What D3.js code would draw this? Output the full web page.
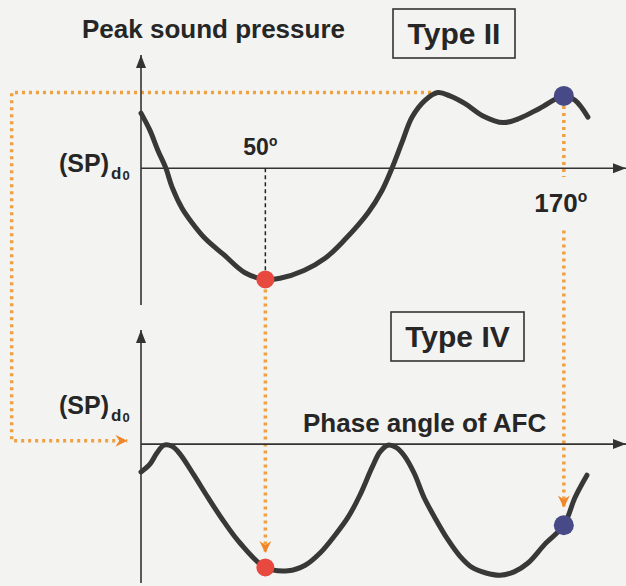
<!DOCTYPE html>
<html>
<head>
<meta charset="utf-8">
<script src="https://cdn.jsdelivr.net/npm/d3@7"></script>
<style>
body{margin:0;background:#f3f3f1;}
text{font-family:"Liberation Sans",Arial,Helvetica,sans-serif;font-weight:bold;fill:#262626;}
</style>
</head>
<body>
<div id="chart"></div>
<script>
// phase angle (deg) vs peak sound pressure relative to (SP)d0
const typeIIAngle = [0, 3.6, 6.8, 10, 12.5, 16.5, 20.5, 25.7, 33.4, 41.8, 50, 55.9, 65.5, 74, 81.6, 91.3, 96.9, 100.9, 104.9, 109, 114.2, 119.4, 124.2, 130.3, 137.5, 145.6, 152.4, 160.4, 170, 174.5, 179.7];
const typeIIValue = [0.495, 0.34, 0.16, 0, -0.17, -0.36, -0.49, -0.63, -0.78, -0.94, -1.0, -0.99, -0.92, -0.81, -0.65, -0.40, -0.20, 0, 0.23, 0.46, 0.61, 0.68, 0.65, 0.58, 0.47, 0.41, 0.45, 0.54, 0.65, 0.61, 0.46];

const typeIVAngle = [0, 3.6, 6.4, 9.2, 12.5, 15.7, 21.3, 26.9, 33.4, 39.8, 50, 59.1, 66, 72, 78, 83.2, 88, 92.9, 96.1, 99.3, 102.5, 105.7, 109.8, 113.8, 118.6, 123.4, 128.3, 133.1, 138.7, 144.4, 150, 155.6, 162.4, 170, 174.5, 179.3];
const typeIVValue = [-0.25, -0.18, -0.08, -0.01, -0.02, -0.09, -0.28, -0.48, -0.70, -0.89, -1.11, -1.14, -1.09, -0.98, -0.82, -0.66, -0.46, -0.21, -0.07, -0.01, -0.03, -0.10, -0.26, -0.48, -0.68, -0.86, -1.01, -1.11, -1.16, -1.18, -1.15, -1.07, -0.90, -0.73, -0.48, -0.28];

// marked angles: red = minimum of type II, blue = 170 deg
const markAngle = [50, 170];
const markTopValue = [-1.0, 0.65];
const markBotValue = [-1.11, -0.73];
const markColor = ["#e8493f", "#474a86"];
const markLabel = ["50", "170"];

const W = 626, H = 586;
const svg = d3.select("#chart").append("svg")
  .attr("width", W).attr("height", H);
svg.append("rect").attr("width", W).attr("height", H).attr("fill", "#f3f3f1");

var x = d3.scaleLinear().domain([0, 195]).range([141, 626]);
var yTop = d3.scaleLinear().domain([-1.23, 1.0]).range([305, 57]);
var yBot = d3.scaleLinear().domain([-1.25, 1.0]).range([583, 333]);

var defs = svg.append("defs");
defs.append("marker").attr("id", "arrowK")
  .attr("markerUnits", "userSpaceOnUse")
  .attr("markerWidth", 14).attr("markerHeight", 12)
  .attr("refX", 13).attr("refY", 5).attr("orient", "auto")
  .append("path").attr("d", "M0,0 L13,5 L0,10 z").attr("fill", "#333");
defs.append("marker").attr("id", "arrowO")
  .attr("markerUnits", "userSpaceOnUse")
  .attr("markerWidth", 14).attr("markerHeight", 14)
  .attr("refX", 12).attr("refY", 6).attr("orient", "auto")
  .append("path").attr("d", "M0,0 L12,6 L0,12 L4,6 z").attr("fill", "#ef8629");

var orange = "#efa040";
var guide = function(pts, arrow){
  var p = svg.append("path")
    .attr("d", d3.line()(pts))
    .attr("fill", "none")
    .attr("stroke", orange)
    .attr("stroke-width", 3.5)
    .attr("stroke-dasharray", "3,4");
  if (arrow) p.attr("marker-end", "url(#arrowO)");
}

// left loop: from the type II peak level round to the type IV axis
var peakI = typeIIValue.indexOf(d3.max(typeIIValue));
var guideX = -52, guideEnd = -5.5;
guide([[x(typeIIAngle[peakI]), yTop(typeIIValue[peakI])],
       [x(guideX), yTop(typeIIValue[peakI])],
       [x(guideX), yBot(0.03)],
       [x(guideEnd), yBot(0.03)]], true);

// red: 50 deg
guide([[x(markAngle[0]), yTop(markTopValue[0]) + 10],
       [x(markAngle[0]), yBot(-0.98)]], true);
// blue: 170 deg, broken round its label
guide([[x(markAngle[1]), yTop(markTopValue[1]) + 10],
       [x(markAngle[1]), yTop(-0.08)]], false);
guide([[x(markAngle[1]), yTop(-0.56)],
       [x(markAngle[1]), yBot(-0.57)]], true);

// axes
var axisLine = function(x1, y1, x2, y2){
  svg.append("line")
    .attr("x1", x1).attr("y1", y1).attr("x2", x2).attr("y2", y2)
    .attr("stroke", "#333").attr("stroke-width", 1.6)
    .attr("marker-end", "url(#arrowK)");
}
axisLine(x(0), yTop.range()[0], x(0), yTop.range()[1] - 2);
axisLine(x(0), yTop(0), x.range()[1], yTop(0));
axisLine(x(0), yBot.range()[0], x(0), yBot.range()[1] - 3);
axisLine(x(0), yBot(0), x.range()[1], yBot(0));

// black dashed drop line at 50 deg
svg.append("line")
  .attr("x1", x(markAngle[0])).attr("x2", x(markAngle[0]))
  .attr("y1", yTop(0)).attr("y2", yTop(markTopValue[0]))
  .attr("stroke", "#222").attr("stroke-width", 1.5)
  .attr("stroke-dasharray", "4,3");

// curves
var drawCurve = function(ang, val, ys){
  var line = d3.line()
    .x((d, i) => x(ang[i]))
    .y(d => ys(d))
    .curve(d3.curveCatmullRom.alpha(0.5));
  svg.append("path")
    .attr("d", line(val))
    .attr("fill", "none")
    .attr("stroke", "#383838")
    .attr("stroke-width", 5)
    .attr("stroke-linejoin", "round")
    .attr("stroke-linecap", "round");
}
drawCurve(typeIIAngle, typeIIValue, yTop);
drawCurve(typeIVAngle, typeIVValue, yBot);

// dots
svg.selectAll("circle.top").data(markAngle).enter().append("circle")
  .attr("cx", d => x(d))
  .attr("cy", (d, i) => yTop(markTopValue[i]))
  .attr("r", (d, i) => i == 0 ? 9 : 10)
  .attr("fill", (d, i) => markColor[i]);
svg.selectAll("circle.bot").data(markAngle).enter().append("circle")
  .attr("cx", d => x(d))
  .attr("cy", (d, i) => yBot(markBotValue[i]))
  .attr("r", (d, i) => i == 0 ? 9 : 10)
  .attr("fill", (d, i) => markColor[i]);

// labels
svg.append("text").attr("x", 82).attr("y", 38)
  .attr("font-size", 26).text("Peak sound pressure");

var typeBox = function(bx, by, bw, bh, label){
  svg.append("rect").attr("x", bx).attr("y", by).attr("width", bw).attr("height", bh)
    .attr("fill", "none").attr("stroke", "#333").attr("stroke-width", 1.6);
  svg.append("text").attr("x", bx + bw/2).attr("y", by + 35)
    .attr("text-anchor", "middle").attr("font-size", 30).text(label);
}
typeBox(393, 9, 122, 49, "Type II");
typeBox(391, 312, 133, 49, "Type IV");

var spLabel = function(by){
  var t = svg.append("text").attr("x", 59).attr("y", by).attr("font-size", 25);
  t.append("tspan").text("(SP)");
  t.append("tspan").attr("font-size", 17).attr("dy", 7).attr("dx", 2).text("d");
  t.append("tspan").attr("font-size", 13).attr("dy", 1).attr("dx", 1).text("0");
}
spLabel(yTop(0) + 4);
spLabel(yBot(0) - 30);

var degLabel = function(i, by, fs, dx){
  var t = svg.append("text").attr("x", x(markAngle[i]) + dx).attr("y", by)
    .attr("text-anchor", "middle").attr("font-size", fs);
  t.append("tspan").text(markLabel[i]);
  t.append("tspan").attr("font-size", fs*0.6).attr("dy", -fs*0.38).text("o");
}
degLabel(0, 155, 23, -5);
degLabel(1, 212, 26, -3);

svg.append("text").attr("x", 303).attr("y", 432)
  .attr("font-size", 26).text("Phase angle of AFC");
</script>
</body>
</html>
